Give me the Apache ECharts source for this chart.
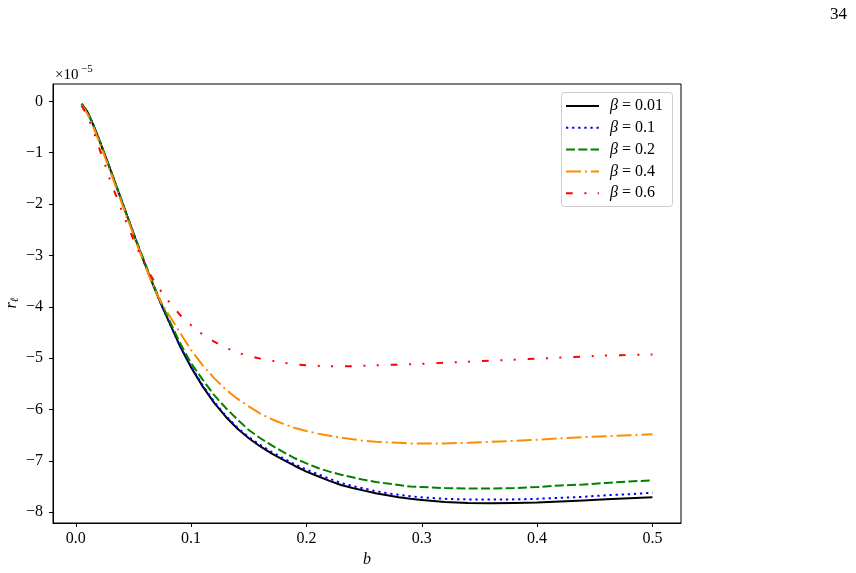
<!DOCTYPE html>
<html>
<head>
<meta charset="utf-8">
<script src="https://cdn.jsdelivr.net/npm/echarts@6/dist/echarts.min.js"></script>
<style>
  html, body { margin: 0; padding: 0; background: #fff; }
  #main { width: 856px; height: 573px; }
</style>
</head>
<body>
<div id="main"></div>
<script>
// b values shared by all curves
let bValues = [0.005, 0.01, 0.015, 0.02, 0.025, 0.03, 0.035, 0.04, 0.045, 0.05,
    0.055, 0.06, 0.065, 0.07, 0.075, 0.08, 0.085, 0.09, 0.095, 0.1,
    0.11, 0.12, 0.13, 0.14, 0.15, 0.16, 0.17, 0.18, 0.19, 0.2,
    0.21, 0.22, 0.23, 0.24, 0.25, 0.26, 0.27, 0.28, 0.29, 0.3,
    0.32, 0.34, 0.36, 0.38, 0.4, 0.42, 0.44, 0.46, 0.48, 0.5];

// r_l in units of 1e-5
let rBeta001 = [-0.05, -0.2, -0.45, -0.73, -1.03, -1.33, -1.64, -1.95, -2.26, -2.57,
    -2.88, -3.17, -3.46, -3.74, -4.0, -4.25, -4.5, -4.75, -4.97, -5.18,
    -5.55, -5.87, -6.14, -6.37, -6.56, -6.72, -6.86, -6.98, -7.1, -7.21,
    -7.3, -7.39, -7.47, -7.53, -7.58, -7.63, -7.67, -7.71, -7.74, -7.76,
    -7.8, -7.82, -7.825, -7.82, -7.81, -7.79, -7.77, -7.75, -7.73, -7.71];
let rBeta01 = [-0.05, -0.2, -0.45, -0.73, -1.03, -1.33, -1.64, -1.95, -2.26, -2.57,
    -2.88, -3.17, -3.46, -3.74, -4.0, -4.25, -4.5, -4.75, -4.96, -5.16,
    -5.53, -5.85, -6.12, -6.35, -6.54, -6.69, -6.83, -6.95, -7.07, -7.17,
    -7.26, -7.35, -7.43, -7.49, -7.54, -7.59, -7.63, -7.66, -7.69, -7.71,
    -7.74, -7.75, -7.755, -7.75, -7.74, -7.72, -7.7, -7.67, -7.65, -7.62];
let rBeta02 = [-0.05, -0.2, -0.45, -0.73, -1.03, -1.33, -1.64, -1.95, -2.26, -2.56,
    -2.86, -3.15, -3.44, -3.71, -3.97, -4.21, -4.45, -4.69, -4.9, -5.1,
    -5.42, -5.72, -5.97, -6.19, -6.4, -6.56, -6.7, -6.83, -6.95, -7.05,
    -7.14, -7.21, -7.27, -7.32, -7.37, -7.41, -7.44, -7.47, -7.5, -7.51,
    -7.53, -7.54, -7.54, -7.53, -7.51, -7.48, -7.46, -7.43, -7.4, -7.38];
let rBeta04 = [-0.07, -0.24, -0.49, -0.77, -1.07, -1.37, -1.68, -1.99, -2.29, -2.6,
    -2.9, -3.19, -3.47, -3.74, -3.96, -4.13, -4.31, -4.49, -4.67, -4.84,
    -5.14, -5.39, -5.61, -5.79, -5.94, -6.08, -6.19, -6.28, -6.36, -6.42,
    -6.47, -6.51, -6.55, -6.58, -6.61, -6.63, -6.64, -6.65, -6.66, -6.66,
    -6.66, -6.65, -6.63, -6.61, -6.59, -6.56, -6.54, -6.52, -6.5, -6.48];
let rBeta06 = [-0.08, -0.28, -0.55, -0.89, -1.21, -1.55, -1.84, -2.14, -2.42, -2.69,
    -2.95, -3.19, -3.39, -3.57, -3.73, -3.88, -4.01, -4.15, -4.26, -4.36,
    -4.54, -4.68, -4.8, -4.89, -4.96, -5.01, -5.05, -5.09, -5.12, -5.14,
    -5.15, -5.16, -5.16, -5.16, -5.15, -5.14, -5.13, -5.13, -5.12, -5.11,
    -5.09, -5.07, -5.05, -5.03, -5.01, -4.99, -4.97, -4.95, -4.94, -4.93];

let betaLabels = ['0.01', '0.1', '0.2', '0.4', '0.6'];
let xTicks = [0, 0.1, 0.2, 0.3, 0.4, 0.5];
let yTicks = [0, -1, -2, -3, -4, -5, -6, -7, -8];

let serif = '"Liberation Serif", "DejaVu Serif", serif';

function pairs(ys) {
    return bValues.map((b, i) => [b, ys[i]]);
}

let seriesStyle = [
    { data: rBeta001, color: '#000000', type: 'solid' },
    { data: rBeta01, color: '#0000ff', type: [2.3, 3.8] },
    { data: rBeta02, color: '#008000', type: [9, 3.3] },
    { data: rBeta04, color: '#ff8c00', type: [15, 4, 2, 4] },
    { data: rBeta06, color: '#ff0000', type: [6.7, 11.7, 2, 11.3, 2, 12] }
];

let series = seriesStyle.map((s, i) => {
    return {
        name: betaLabels[i],
        type: 'line',
        symbol: 'none',
        smooth: false,
        data: pairs(s.data),
        lineStyle: { color: s.color, width: 2, type: s.type, cap: 'butt', join: 'round' },
        itemStyle: { color: s.color }
    };
});

let chart = echarts.init(document.getElementById('main'));
let option = {
    animation: false,
    backgroundColor: '#fff',
    grid: {
        left: 53, top: 84, width: 628, height: 439,
        outerBoundsMode: 'none',
        containLabel: false,
        show: true, borderColor: '#000', borderWidth: 1
    },
    xAxis: {
        type: 'value',
        min: -0.01975,
        max: 0.52475,
        name: 'b',
        nameLocation: 'middle',
        nameGap: 26,
        nameTextStyle: { fontFamily: serif, fontSize: 16, fontStyle: 'italic', color: '#000' },
        splitLine: { show: false },
        axisLine: { onZero: false, lineStyle: { color: '#000', width: 1 } },
        axisTick: { length: 4, lineStyle: { color: '#000' }, customValues: xTicks },
        axisLabel: {
            customValues: xTicks,
            margin: 8,
            fontFamily: serif, fontSize: 16, color: '#000',
            formatter: v => v.toFixed(1)
        }
    },
    yAxis: {
        type: 'value',
        min: -8.21,
        max: 0.337,
        splitLine: { show: false },
        axisLine: { onZero: false, lineStyle: { color: '#000', width: 1 } },
        axisTick: { length: 4, lineStyle: { color: '#000' }, customValues: yTicks },
        axisLabel: {
            customValues: yTicks,
            margin: 10,
            fontFamily: serif, fontSize: 16, color: '#000',
            formatter: v => v < 0 ? '\u2212' + Math.abs(v) : String(v)
        }
    },
    legend: {
        orient: 'vertical',
        left: 561,
        top: 92,
        padding: [6, 4, 5, 4],
        itemWidth: 33,
        itemHeight: 10,
        itemGap: 5.8,
        data: betaLabels,
        itemStyle: { opacity: 0 },
        formatter: name => '{i|β} = ' + name,
        textStyle: {
            fontFamily: serif, fontSize: 16, color: '#000', lineHeight: 16,
            padding: [0, 0, 0, 6],
            rich: {
                i: { fontFamily: serif, fontSize: 16, fontStyle: 'italic', color: '#000' }
            }
        }
    },
    graphic: [
        {
            type: 'rect', left: 561, top: 92, z: 1,
            shape: { width: 111, height: 114, r: 3 },
            style: { fill: 'rgba(255,255,255,0.8)', stroke: '#cccccc', lineWidth: 1 }
        },
        {
            // y axis label r_l, rotated like matplotlib's ylabel
            type: 'text', x: 12, y: 303, rotation: Math.PI / 2,
            style: {
                text: '{r|r}{s|ℓ}',
                align: 'center', verticalAlign: 'middle',
                rich: {
                    r: { fontFamily: serif, fontSize: 16, fontStyle: 'italic', fill: '#000' },
                    s: { fontFamily: serif, fontSize: 11, fontStyle: 'italic', fill: '#000', padding: [6, 0, 0, 0] }
                }
            }
        },
        {
            type: 'text', left: 55, top: 68,
            style: { text: '×10', fontFamily: serif, fontSize: 15, fill: '#000' }
        },
        {
            type: 'text', left: 81, top: 64,
            style: { text: '\u22125', fontFamily: serif, fontSize: 11, fill: '#000' }
        },
        {
            type: 'text', left: 830, top: 6,
            style: { text: '34', fontFamily: serif, fontSize: 17, fill: '#000' }
        }
    ],
    series: series
};
chart.setOption(option);
</script>
</body>
</html>
